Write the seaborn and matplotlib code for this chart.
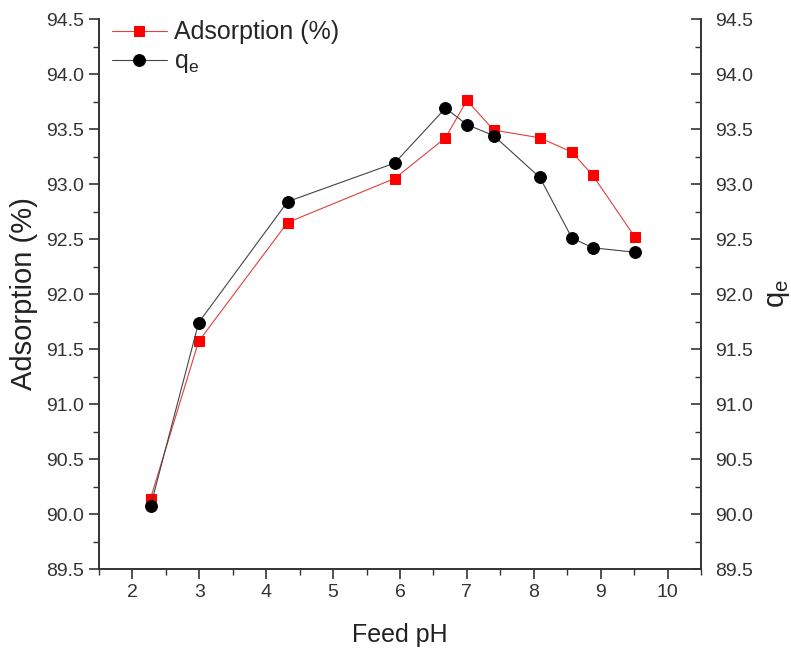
import matplotlib
matplotlib.use("Agg")
import matplotlib.pyplot as plt
import seaborn as sns
import pandas as pd
from matplotlib.ticker import MultipleLocator

sns.set_style("ticks")
plt.rcParams['font.family'] = ['Liberation Sans', 'DejaVu Sans']

feed_ph = [2.27, 2.99, 4.32, 5.92, 6.68, 7.0, 7.40, 8.09, 8.57, 8.88, 9.51]
adsorption = [90.14, 91.57, 92.65, 93.05, 93.42, 93.76, 93.49, 93.42, 93.29, 93.08, 92.52]
qe = [90.07, 91.74, 92.84, 93.19, 93.69, 93.54, 93.44, 93.06, 92.51, 92.42, 92.38]

df = pd.DataFrame({"pH": feed_ph, "ads": adsorption, "qe": qe})

fig = plt.figure(figsize=(7.91, 6.60), dpi=100)
ax = fig.add_axes([99/791, 1-569/660, (701-99)/791, (569-19)/660])
ax2 = ax.twinx()

sns.lineplot(data=df, x="pH", y="ads", ax=ax, color="#e04040", linewidth=0.8,
             marker="s", markersize=7.5, markerfacecolor="#ff0000",
             markeredgecolor="#ff0000", label="Adsorption (%)", legend=False)
sns.lineplot(data=df, x="pH", y="qe", ax=ax2, color="#444444", linewidth=0.8,
             marker="o", markersize=8.5, markerfacecolor="black",
             markeredgecolor="black", label="q$_\\mathregular{e}$", legend=False)

for a in (ax, ax2):
    a.set_xlim(1.5, 10.5)
    a.set_ylim(89.5, 94.5)
    a.yaxis.set_major_locator(MultipleLocator(0.5))
    a.yaxis.set_minor_locator(MultipleLocator(0.25))
    for s in a.spines.values():
        s.set_color("#333333")
        s.set_linewidth(1.2)
    a.spines['top'].set_visible(False)

ax.xaxis.set_major_locator(MultipleLocator(1))
ax.xaxis.set_minor_locator(MultipleLocator(0.5))
ax.yaxis.set_major_formatter(matplotlib.ticker.FormatStrFormatter('%.1f'))
ax2.yaxis.set_major_formatter(matplotlib.ticker.FormatStrFormatter('%.1f'))

ax.tick_params(axis='both', which='major', direction='out', length=7, width=1.2,
               labelsize=14, color="#333333", labelcolor="#333333")
ax.tick_params(axis='both', which='minor', direction='out', length=4, width=1.0, color="#333333")
ax2.tick_params(axis='y', which='major', direction='in', length=7, width=1.2,
                labelsize=14, color="#333333", labelcolor="#333333", pad=10)
ax2.tick_params(axis='y', which='minor', direction='in', length=4, width=1.0, color="#333333")

ax.set_xlabel("Feed pH", fontsize=18, color="#222222", labelpad=16)
ax.set_ylabel("Adsorption (%)", fontsize=21, color="#222222", labelpad=6)
ax2.set_ylabel("q$_\\mathregular{e}$", fontsize=21, color="#222222", labelpad=8)

h1, l1 = ax.get_legend_handles_labels()
h2, l2 = ax2.get_legend_handles_labels()
ax.legend(h1 + h2, l1 + l2, loc="upper left", frameon=False, fontsize=18,
          handlelength=2.2, handletextpad=0.3, borderaxespad=0.1,
          labelspacing=0.2, bbox_to_anchor=(0.0, 1.02))

fig.savefig("out.png", dpi=100)
